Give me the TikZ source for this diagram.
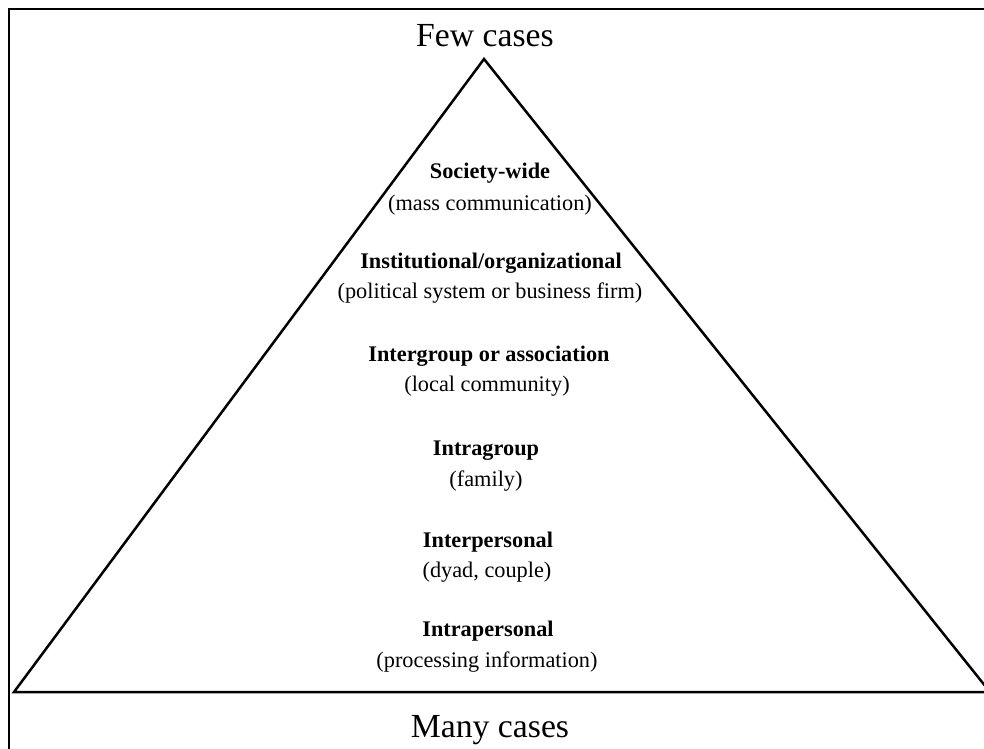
\documentclass[tikz,border=0pt]{standalone}
\usepackage{fontspec}
\setmainfont{Liberation Serif}
\begin{document}
\begin{tikzpicture}[x=1pt,y=-1pt,
  edge/.style={line width=2.5pt,line join=miter},
  title/.style={font=\fontsize{33.7}{36}\selectfont,anchor=base,inner sep=0pt},
  head/.style={font=\fontsize{22.3}{25}\selectfont\bfseries,anchor=base,inner sep=0pt},
  sub/.style={font=\fontsize{22.3}{25}\selectfont,anchor=base,inner sep=0pt}]
\useasboundingbox (0,0) rectangle (984,748);
\clip (0,0) rectangle (984,748);
% frame
\draw[edge] (9,760) -- (9,9) -- (1000,9);
% pyramid
\coordinate (apex) at (484,59);
\coordinate (bl) at (14,692);
\coordinate (br) at (990,692);
\draw[edge] (bl) -- (apex) -- (br) -- cycle;
% labels
\node[title] (few) at (485,46) {Few cases};
\node[title] (many) at (490,737) {Many cases};
\node[head] (h1) at (490,178) {Society-wide};
\node[sub]  (s1) at (490,210) {(mass communication)};
\node[head] (h2) at (491,268) {Institutional/organizational};
\node[sub]  (s2) at (490,298) {(political system or business firm)};
\node[head] (h3) at (489,361) {Intergroup or association};
\node[sub]  (s3) at (487,391) {(local community)};
\node[head] (h4) at (486,455) {Intragroup};
\node[sub]  (s4) at (486,486) {(family)};
\node[head] (h5) at (488,547) {Interpersonal};
\node[sub]  (s5) at (487,577) {(dyad, couple)};
\node[head] (h6) at (488,636) {Intrapersonal};
\node[sub]  (s6) at (487,667) {(processing information)};
\end{tikzpicture}
\end{document}
